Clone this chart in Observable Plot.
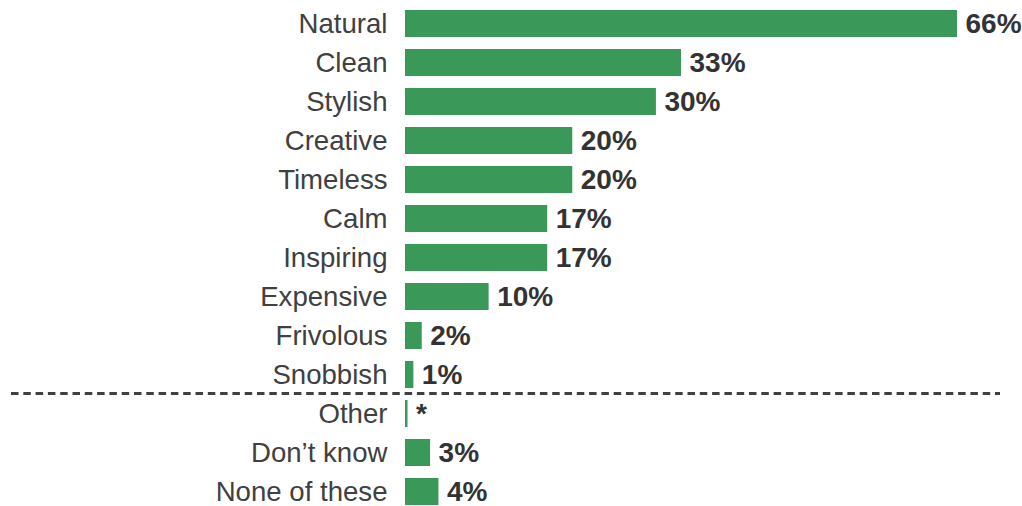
<!DOCTYPE html>
<html>
<head>
<meta charset="utf-8">
<script src="https://cdn.jsdelivr.net/npm/d3@7"></script>
<script src="https://cdn.jsdelivr.net/npm/@observablehq/plot@0.6"></script>
<style>
  html, body { margin: 0; padding: 0; background: #fff; }
  #chart svg { display: block; }
</style>
</head>
<body>
<div id="chart"></div>
<script>
const categories = ["Natural", "Clean", "Stylish", "Creative", "Timeless", "Calm", "Inspiring", "Expensive", "Frivolous", "Snobbish", "Other", "Don\u2019t know", "None of these"];
const values = [66, 33, 30, 20, 20, 17, 17, 10, 2, 1, 0.3, 3, 4];
const valueLabels = ["66%", "33%", "30%", "20%", "20%", "17%", "17%", "10%", "2%", "1%", "*", "3%", "4%"];
const separatorBefore = ["Other"];

const data = categories.map((c, i) => ({cat: c, value: values[i], label: valueLabels[i]}));

const chart = Plot.plot({
  width: 1022,
  height: 506,
  marginLeft: 11,
  marginRight: 22,
  marginTop: 10,
  marginBottom: 0,
  style: {fontFamily: "'Liberation Sans', Arial, sans-serif", background: "#fff"},
  x: {domain: [0, 66], range: [405, 957], axis: null},
  y: {domain: categories, range: [10, 505], paddingInner: 0.32, paddingOuter: 0, axis: null},
  marks: [
    Plot.barX(data, {x: "value", y: "cat", fill: "#3a9859"}),
    Plot.text(data, {x: "value", y: "cat", text: "label", textAnchor: "start", dx: 8, fontWeight: "bold", fontSize: 28, fill: "#333333"}),
    Plot.text(data, {x: 0, y: "cat", text: "cat", textAnchor: "end", dx: -18, fontSize: 27.6, fill: "#404040"}),
    Plot.ruleY(separatorBefore, {y: d => d, dy: -20.5, stroke: "#404040", strokeWidth: 3, strokeDasharray: "7.5,4.8"})
  ]
});
document.getElementById("chart").appendChild(chart);
</script>
</body>
</html>
